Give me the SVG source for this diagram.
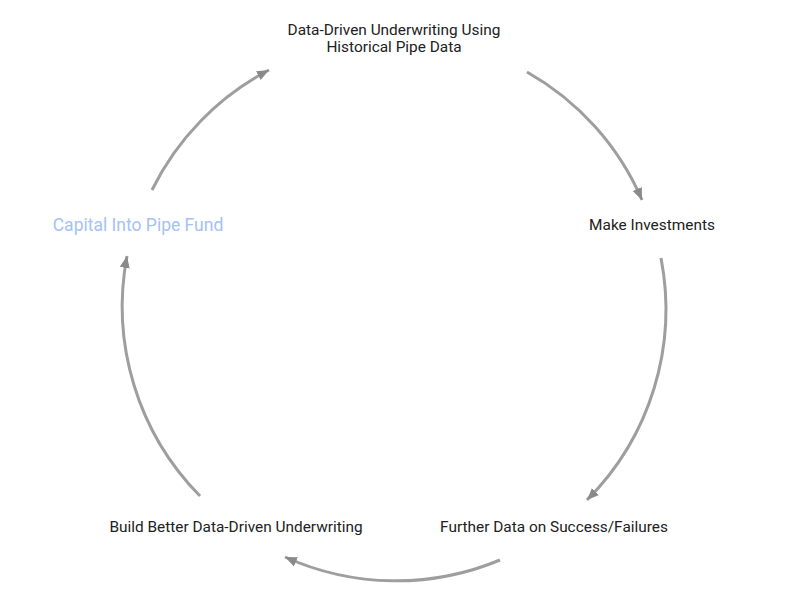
<svg xmlns="http://www.w3.org/2000/svg" width="800" height="610" viewBox="0 0 800 610">
<style>
.t{font-family:Roboto,"Liberation Sans",sans-serif;font-size:15.4px;fill:#212121;text-anchor:middle}
.c{fill:none;stroke:#9e9e9e;stroke-width:3}
</style>
<defs>
<marker id="ah" markerUnits="userSpaceOnUse" markerWidth="14" markerHeight="12" refX="12" refY="5" orient="auto" viewBox="0 0 14 10">
<path d="M0,0 L12,5 L0,10 Z" fill="#8a8a8a"/>
</marker>
</defs>
<rect width="800" height="610" fill="#fff"/>
<g id="connectors">
<path class="c" d="M152,190 A270,270 0 0 1 269,70" marker-end="url(#ah)"/>
<path class="c" d="M527,72 A270,270 0 0 1 642,200" marker-end="url(#ah)"/>
<path class="c" d="M661,258 A270,270 0 0 1 587,500" marker-end="url(#ah)"/>
<path class="c" d="M500,560 A270,270 0 0 1 285,557" marker-end="url(#ah)"/>
<path class="c" d="M200,496 A270,270 0 0 1 127,256" marker-end="url(#ah)"/>
</g>
<g id="n1"><text class="t" x="394" y="35">Data-Driven Underwriting Using</text><text class="t" x="394" y="52">Historical Pipe Data</text></g>
<g id="n2"><text class="t" x="652" y="230">Make Investments</text></g>
<g id="n3"><text class="t" x="554" y="532">Further Data on Success/Failures</text></g>
<g id="n4"><text class="t" x="236" y="532">Build Better Data-Driven Underwriting</text></g>
<g id="n5"><text class="t" x="138" y="231" style="fill:#a4c2f4;font-size:17.5px">Capital Into Pipe Fund</text></g>
</svg>
